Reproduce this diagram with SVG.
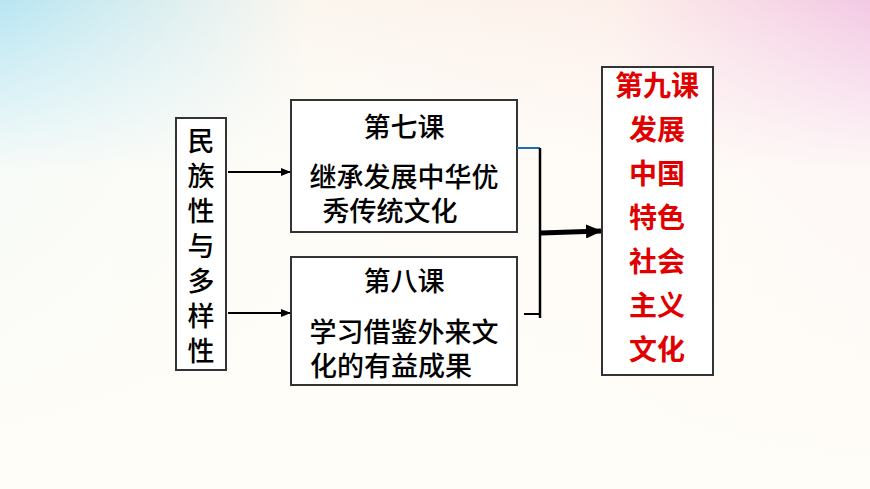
<svg xmlns="http://www.w3.org/2000/svg" width="870" height="489" viewBox="0 0 870 489">
<defs>
<linearGradient id="bg" x1="0" y1="0" x2="1" y2="0">
<stop offset="0" stop-color="#b8e6f2"/><stop offset="0.35" stop-color="#fbf6ee"/><stop offset="0.7" stop-color="#fdf0ea"/><stop offset="1" stop-color="#f3c9e4"/>
</linearGradient>
<linearGradient id="fade" x1="0" y1="0" x2="0" y2="1">
<stop offset="0" stop-color="#fff" stop-opacity="0"/><stop offset="0.35" stop-color="#fffdf8" stop-opacity="0.9"/><stop offset="1" stop-color="#fffdf8" stop-opacity="1"/>
</linearGradient>
<marker id="ah" markerWidth="10" markerHeight="8" refX="9" refY="4" orient="auto" markerUnits="userSpaceOnUse"><path d="M0,0 L10,4 L0,8 Z" fill="#000"/></marker>
<marker id="ahb" markerWidth="16" markerHeight="14" refX="15" refY="7" orient="auto" markerUnits="userSpaceOnUse"><path d="M0,0 L16,7 L0,14 Z" fill="#000"/></marker>
</defs>
<style>
.box{fill:#fff;stroke:#333;stroke-width:2}
.t{font-family:"Noto Sans CJK SC",sans-serif;font-size:27px;font-weight:500;fill:#000}
.r{font-family:"Noto Sans CJK SC",sans-serif;font-size:28px;font-weight:bold;fill:#e00000}
</style>
<rect width="870" height="489" fill="url(#bg)"/>
<rect width="870" height="489" fill="url(#fade)"/>
<g id="n1"><rect class="box" x="176" y="118" width="50" height="252"/>
<text class="t" x="201" y="151" text-anchor="middle">民</text><text class="t" x="201" y="186" text-anchor="middle">族</text><text class="t" x="201" y="221" text-anchor="middle">性</text><text class="t" x="201" y="256" text-anchor="middle">与</text><text class="t" x="201" y="291" text-anchor="middle">多</text><text class="t" x="201" y="326" text-anchor="middle">样</text><text class="t" x="201" y="361" text-anchor="middle">性</text></g>
<g id="n7"><rect class="box" x="291" y="100" width="226" height="132"/>
<text class="t" x="404" y="137" text-anchor="middle">第七课</text><text class="t" x="404" y="187" text-anchor="middle">继承发展中华优</text><text class="t" x="390" y="221" text-anchor="middle">秀传统文化</text></g>
<g id="n8"><rect class="box" x="291" y="257" width="226" height="128"/>
<text class="t" x="404" y="291" text-anchor="middle">第八课</text><text class="t" x="404" y="342" text-anchor="middle">学习借鉴外来文</text><text class="t" x="391" y="376" text-anchor="middle">化的有益成果</text></g>
<g id="n9"><rect class="box" x="602" y="67" width="111" height="308"/>
<text class="r" x="657" y="96" text-anchor="middle">第九课</text><text class="r" x="657" y="140" text-anchor="middle">发展</text><text class="r" x="657" y="184" text-anchor="middle">中国</text><text class="r" x="657" y="228" text-anchor="middle">特色</text><text class="r" x="657" y="272" text-anchor="middle">社会</text><text class="r" x="657" y="316" text-anchor="middle">主义</text><text class="r" x="657" y="360" text-anchor="middle">文化</text></g>
<g id="connectors" fill="none" stroke="#000" stroke-width="2">
<line x1="228" y1="172" x2="290" y2="172" marker-end="url(#ah)"/>
<line x1="228" y1="313" x2="290" y2="313" marker-end="url(#ah)"/>
<line x1="517" y1="148" x2="540" y2="148" stroke="#1f6fb8"/>
<line x1="540" y1="148" x2="540" y2="318" stroke-width="2.5"/>
<line x1="524" y1="314" x2="541" y2="314"/>
<line x1="541" y1="233" x2="601" y2="231" stroke-width="5" marker-end="url(#ahb)"/>
</g>
</svg>
